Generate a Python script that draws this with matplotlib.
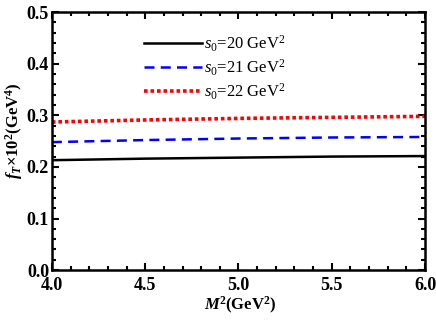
import numpy as np
import matplotlib
matplotlib.use("Agg")
import matplotlib.pyplot as plt
from matplotlib.ticker import MultipleLocator

# fonts: Times-like serif everywhere, mathtext too
plt.rcParams['font.family'] = ['Liberation Serif', 'DejaVu Serif']
plt.rcParams['mathtext.fontset'] = 'custom'
plt.rcParams['mathtext.rm'] = 'Liberation Serif'
plt.rcParams['mathtext.it'] = 'Liberation Serif:italic'
plt.rcParams['mathtext.bf'] = 'Liberation Serif:bold'
plt.rcParams['mathtext.bfit'] = 'Liberation Serif:italic:bold'

# data
M2 = [4.0, 4.5, 5.0, 5.5, 6.0]
fT_s20 = [0.213, 0.216, 0.218, 0.220, 0.221]
fT_s21 = [0.248, 0.252, 0.255, 0.257, 0.258]
fT_s22 = [0.287, 0.291, 0.294, 0.296, 0.298]
labels = [r'$s_0$=20 GeV$^2$', r'$s_0$=21 GeV$^2$', r'$s_0$=22 GeV$^2$']

fig = plt.figure(figsize=(4.36, 3.27), dpi=100)
ax = fig.add_axes([0.119, 0.174, 0.856, 0.789])

ax.plot(M2, fT_s20, color='black', lw=1.8, ls='-', label=labels[0])
ax.plot(M2, fT_s21, color='blue', lw=1.8, ls=(0, (4, 2.5)), label=labels[1])
ax.plot(M2, fT_s22, color='red', lw=2.6, ls=(0, (1, 0.8)), label=labels[2])

ax.set_xlim(4.0, 6.0)
ax.set_ylim(0.0, 0.5)
ax.xaxis.set_major_locator(MultipleLocator(0.5))
ax.xaxis.set_minor_locator(MultipleLocator(0.1))
ax.yaxis.set_major_locator(MultipleLocator(0.1))
ax.yaxis.set_minor_locator(MultipleLocator(0.02))
ax.xaxis.set_major_formatter(matplotlib.ticker.FormatStrFormatter('%.1f'))
ax.yaxis.set_major_formatter(matplotlib.ticker.FormatStrFormatter('%.1f'))

ax.tick_params(which='both', direction='in', top=True, right=True, width=1.5)
ax.tick_params(which='major', length=5, labelsize=13)
ax.tick_params(axis='x', which='major', pad=5)
ax.tick_params(axis='y', which='major', pad=2)
ax.tick_params(which='minor', length=3)
for t in ax.get_xticklabels() + ax.get_yticklabels():
    t.set_fontweight('bold')
for s in ax.spines.values():
    s.set_linewidth(1.8)

ax.set_xlabel(r'$\boldsymbol{M}^{\mathbf{2}}\mathbf{(GeV^{2})}$', fontsize=12)
ax.set_ylabel(r'$\boldsymbol{f}_{\boldsymbol{T}}\mathbf{\times 10^{2}(GeV^{4})}$', fontsize=12)
ax.xaxis.set_label_coords(0.505, -0.095)
ax.yaxis.set_label_coords(-0.073, 0.54)

ax.legend(loc='upper left', bbox_to_anchor=(0.207, 0.975), frameon=False,
          fontsize=12, handlelength=3.5, labelspacing=0.22, handletextpad=0.1)

fig.savefig('out.png', dpi=100)
